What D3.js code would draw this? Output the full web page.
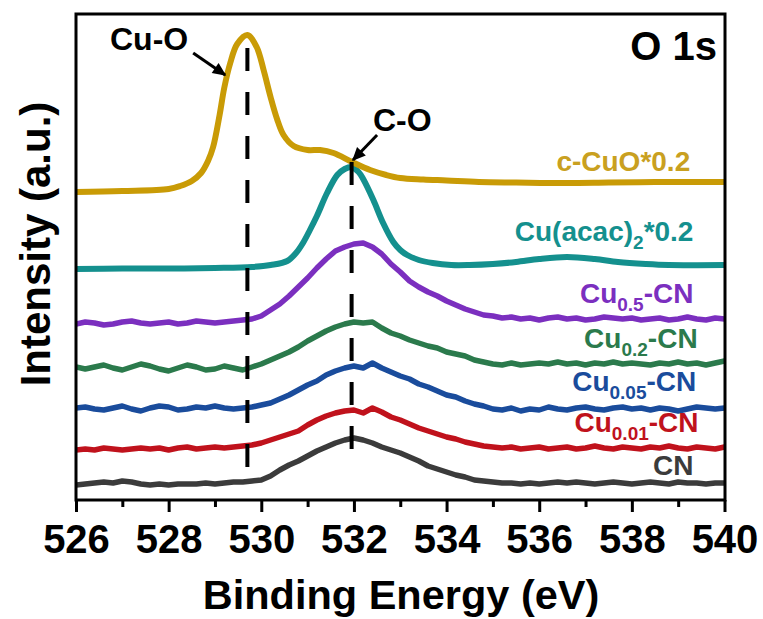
<!DOCTYPE html>
<html>
<head>
<meta charset="utf-8">
<script src="https://cdn.jsdelivr.net/npm/d3@7"></script>
<style>
  html, body { margin: 0; padding: 0; background: #fff; }
  svg { display: block; font-family: "Liberation Sans", Arial, Helvetica, sans-serif; font-weight: bold; }
</style>
</head>
<body>
<svg id="chart" width="763" height="619"></svg>
<script>
// ---- O 1s XPS spectra (binding energy in eV, intensity in stacked a.u.) ----

// Sampling grid shared by the measured CN-based spectra
const energyGrid = [526.0,526.2,526.4,526.6,526.8,527.0,527.2,527.4,527.6,527.8,
  528.0,528.2,528.4,528.6,528.8,529.0,529.2,529.4,529.6,529.8,
  530.0,530.2,530.4,530.6,530.8,531.0,531.2,531.4,531.6,531.8,
  532.0,532.2,532.4,532.6,532.8,533.0,533.2,533.4,533.6,533.8,
  534.0,534.2,534.4,534.6,534.8,535.0,535.2,535.4,535.6,535.8,
  536.0,536.2,536.4,536.6,536.8,537.0,537.2,537.4,537.6,537.8,
  538.0,538.2,538.4,538.6,538.8,539.0,539.2,539.4,539.6,539.8,540.0];

const cnValues = [15,16,17,18,17,19,18,16,15,16,15,16,16,16,17,16,17,18,18,
  19,20,24,30,35,39,44,49,53,57,60,62,60,57,53,50,47,43,39,34,31,28,25,23,20,19,18,
  17,17,16,17,16,17,18,17,18,17,16,17,18,17,16,17,18,17,16,18,17,17,16,17,17];

const cu001Values = [50,51,50,52,51,50,51,52,51,52,50,52,53,51,52,53,52,53,54,
  55,57,60,63,66,69,75,80,84,87,89,90,87,92,88,83,80,76,72,69,66,63,61,58,56,54,53,
  52,53,51,52,53,51,52,53,51,52,54,52,51,53,52,51,53,52,54,52,51,53,52,51,53];

const cu005Values = [92,93,91,90,92,94,91,89,92,94,93,90,91,93,92,94,92,91,92,
  93,95,97,101,105,110,115,119,125,129,132,134,132,137,132,128,124,121,116,113,109,105,103,99,96,94,91,
  90,92,89,91,90,93,91,90,92,93,91,90,92,93,91,92,90,92,91,89,91,93,92,91,92];

const cu02Values = [133,131,133,135,132,130,133,136,134,131,129,132,135,133,130,131,134,132,130,
  133,136,140,144,148,153,159,164,169,173,176,178,177,178,172,167,164,160,157,154,152,148,146,144,140,138,136,
  135,137,135,136,137,136,138,136,137,135,137,136,138,136,137,136,135,137,136,138,136,137,135,137,139];

const cu05Values = [176,178,177,175,176,178,179,177,176,177,178,176,177,179,178,177,178,179,180,
  181,184,190,196,204,213,222,232,241,249,253,256,257,253,246,236,228,219,213,208,204,199,195,191,188,185,184,
  182,183,181,182,180,182,183,181,182,180,181,183,182,181,182,180,181,182,180,181,183,181,180,182,181];

// Reference compounds (scaled x0.2), given as [energy, intensity] pairs
const acacPoints = [[526,231],[527,231.5],[528,231.5],[529,232],[529.8,233],[530.2,235],[530.56,239],
  [530.75,247],[530.9,257],[531.05,270],[531.2,284],[531.42,307],[531.64,325],[531.8,331],[531.95,333],
  [532.1,328],[532.2,321],[532.42,300],[532.63,277],[532.85,258],[533.0,250],[533.15,245],[533.4,240],
  [533.7,237],[534.1,235],[534.5,235],[535.0,236],[535.5,238],[536.0,241],[536.6,243],[537.2,241],
  [537.7,238],[538.3,236],[538.8,235],[540,235]];

const cuoPoints = [[526,308],[527,309],[528,311],[528.25,314],[528.5,319],[528.7,327],[528.85,339],
  [528.96,353],[529.1,385],[529.2,412],[529.33,437],[529.48,456],[529.7,465],[529.9,453],[530.05,430],
  [530.2,403],[530.34,381],[530.48,365],[530.7,354],[531.0,350],[531.27,350],[531.56,347],[531.96,338],
  [532.35,330],[532.7,325],[533.0,322],[533.5,320.5],[534.0,319.5],[534.7,318],[535.5,317.5],[536.6,317],
  [537.5,317.5],[538.5,318],[539.5,318],[540,318]];

const seriesNames = ["CN", "Cu0.01-CN", "Cu0.05-CN", "Cu0.2-CN", "Cu0.5-CN", "Cu(acac)2*0.2", "c-CuO*0.2"];

// Peak positions marked with dashed guides, and their annotations
const peakLines = [
  { energy: 529.7, top: 452, bottom: 27 },
  { energy: 531.95, top: 338, bottom: 47 }
];
const peakNotes = [
  { text: "Cu-O", from: [528.53, 447], to: [529.22, 425] },
  { text: "C-O",  from: [532.5, 365],  to: [531.98, 340] }
];

const xTicksMajor = [526, 528, 530, 532, 534, 536, 538, 540];
const xTicksMinor = [527, 529, 531, 533, 535, 537, 539];

// ---- layout ----
const svg = d3.select("#chart");
const plot = { left: 76, right: 725, top: 14, bottom: 500 };

const x = d3.scaleLinear().domain([526, 540]).range([plot.left, plot.right - 0.5]);
const y = d3.scaleLinear().domain([0, 486]).range([plot.bottom, plot.top]);

const defs = svg.append("defs");
defs.append("clipPath").attr("id", "plotClip")
  .append("rect")
  .attr("x", plot.left).attr("y", plot.top)
  .attr("width", plot.right - plot.left).attr("height", plot.bottom - plot.top);

defs.append("marker")
  .attr("id", "arrowHead")
  .attr("viewBox", "0 0 10 10")
  .attr("refX", 9).attr("refY", 5)
  .attr("markerWidth", 5).attr("markerHeight", 4.5)
  .attr("orient", "auto")
  .append("path")
  .attr("d", "M0,0.5 L10,5 L0,9.5 Z")
  .attr("fill", "#000");

// stacked spectra
const gridSeries = [cnValues, cu001Values, cu005Values, cu02Values, cu05Values];
const colors = ["#3b3b3b", "#c0121c", "#1a4c9c", "#2b7a4c", "#7b2fbf", "#14908e", "#c99b06"];
const labelColors = ["#3b3b3b", "#c0121c", "#1a4c9c", "#2b7a4c", "#7b2fbf", "#14908e", "#c9a020"];

const gLines = svg.append("g").attr("clip-path", "url(#plotClip)");

const noisyLine = d3.line()
  .x((d, i) => x(energyGrid[i]))
  .y(d => y(d))
  .curve(d3.curveLinear);

const smoothLine = d3.line()
  .x(d => x(d[0]))
  .y(d => y(d[1]))
  .curve(d3.curveCatmullRom.alpha(0.5));

gridSeries.forEach((vals, i) => {
  gLines.append("path")
    .attr("d", noisyLine(vals))
    .attr("fill", "none")
    .attr("stroke", colors[i])
    .attr("stroke-width", 5.5)
    .attr("stroke-linejoin", "round");
});
[acacPoints, cuoPoints].forEach((pts, j) => {
  gLines.append("path")
    .attr("d", smoothLine(pts))
    .attr("fill", "none")
    .attr("stroke", colors[5 + j])
    .attr("stroke-width", 6)
    .attr("stroke-linejoin", "round");
});

// dashed peak guides
svg.append("g").selectAll("line").data(peakLines).join("line")
  .attr("x1", d => x(d.energy)).attr("x2", d => x(d.energy))
  .attr("y1", d => y(d.top)).attr("y2", d => y(d.bottom))
  .attr("stroke", "#000")
  .attr("stroke-width", 4)
  .attr("stroke-dasharray", "23 21");

// frame
svg.append("rect")
  .attr("x", plot.left).attr("y", plot.top)
  .attr("width", plot.right - plot.left).attr("height", plot.bottom - plot.top)
  .attr("fill", "none").attr("stroke", "#000").attr("stroke-width", 3);

// x axis: major ticks with labels, minor ticks without
const axisMajor = d3.axisBottom(x).tickValues(xTicksMajor).tickSize(12).tickPadding(13)
  .tickFormat(d3.format("d"));
const gAx = svg.append("g").attr("transform", `translate(0,${plot.bottom})`).call(axisMajor);
gAx.select(".domain").remove();
gAx.selectAll(".tick line").attr("stroke", "#000").attr("stroke-width", 3);
gAx.selectAll(".tick text")
  .attr("fill", "#000")
  .style("font-family", "'Liberation Sans', Arial, sans-serif")
  .style("font-weight", "bold")
  .style("font-size", "40px");

const axisMinor = d3.axisBottom(x).tickValues(xTicksMinor).tickSize(7).tickFormat("");
const gMin = svg.append("g").attr("transform", `translate(0,${plot.bottom})`).call(axisMinor);
gMin.select(".domain").remove();
gMin.selectAll(".tick line").attr("stroke", "#000").attr("stroke-width", 3);

// axis titles
svg.append("text")
  .attr("x", 401).attr("y", 609)
  .attr("text-anchor", "middle")
  .style("font-size", "41.5px")
  .attr("fill", "#000")
  .text("Binding Energy (eV)");

svg.append("text")
  .attr("transform", "translate(50,244) rotate(-90)")
  .attr("text-anchor", "middle")
  .style("font-size", "42px")
  .attr("fill", "#000")
  .text("Intensity (a.u.)");

// panel title
svg.append("text")
  .attr("x", 717).attr("y", 60)
  .attr("text-anchor", "end")
  .style("font-size", "40px")
  .attr("fill", "#000")
  .text("O 1s");

// peak annotations with arrows
const noteAnchors = [{ x: 110, y: 50, anchor: "start" }, { x: 373, y: 131, anchor: "start" }];
peakNotes.forEach((n, i) => {
  svg.append("line")
    .attr("x1", x(n.from[0])).attr("y1", y(n.from[1]))
    .attr("x2", x(n.to[0])).attr("y2", y(n.to[1]))
    .attr("stroke", "#000").attr("stroke-width", 3)
    .attr("marker-end", "url(#arrowHead)");
  svg.append("text")
    .attr("x", noteAnchors[i].x).attr("y", noteAnchors[i].y)
    .attr("text-anchor", noteAnchors[i].anchor)
    .style("font-size", "32px")
    .attr("fill", "#000")
    .text(n.text);
});

// series labels (right aligned, with subscripts)
const labelParts = [
  [["CN", false]],
  [["Cu", false], ["0.01", true], ["-CN", false]],
  [["Cu", false], ["0.05", true], ["-CN", false]],
  [["Cu", false], ["0.2", true], ["-CN", false]],
  [["Cu", false], ["0.5", true], ["-CN", false]],
  [["Cu(acac)", false], ["2", true], ["*0.2", false]],
  [["c-CuO*0.2", false]]
];
const labelPos = [
  { e: 539.33, v: 25 }, { e: 539.44, v: 68 }, { e: 539.39, v: 109 }, { e: 539.42, v: 152 },
  { e: 539.33, v: 197 }, { e: 539.33, v: 259 }, { e: 539.26, v: 329 }
];
labelParts.forEach((parts, i) => {
  const t = svg.append("text")
    .attr("x", x(labelPos[i].e)).attr("y", y(labelPos[i].v))
    .attr("text-anchor", "end")
    .style("font-size", "28px")
    .attr("fill", labelColors[i])
    .attr("data-series", seriesNames[i]);
  let lowered = false;
  parts.forEach(([txt, sub]) => {
    const ts = t.append("tspan").text(txt);
    if (sub && !lowered) { ts.attr("dy", 8).style("font-size", "19px"); lowered = true; }
    else if (!sub && lowered) { ts.attr("dy", -8); lowered = false; }
  });
});
</script>
</body>
</html>
